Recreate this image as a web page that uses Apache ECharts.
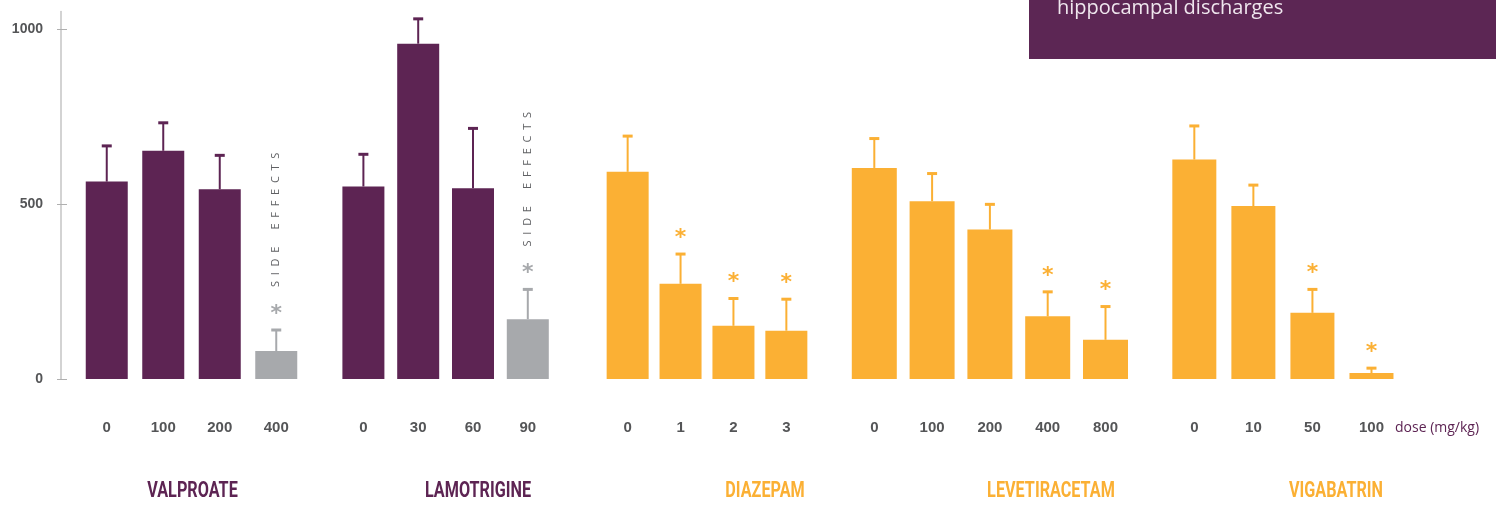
<!DOCTYPE html>
<html><head><meta charset="utf-8">
<script src="https://cdn.jsdelivr.net/npm/echarts@6/dist/echarts.min.js"></script>
<style>html,body{margin:0;padding:0;background:#fff}#c{width:1496px;height:505px}</style>
</head><body><div id="c"></div>
<script>
// ---- data ----
const drugs = ['VALPROATE', 'LAMOTRIGINE', 'DIAZEPAM', 'LEVETIRACETAM', 'VIGABATRIN'];

const valproateDoses = ['0', '100', '200', '400'];
const valproateMean  = [564, 652, 542, 80];
const valproateErr   = [102, 80, 97, 60];
const valproateSig   = [0, 0, 0, 1];
const valproateSide  = [0, 0, 0, 1];

const lamotrigineDoses = ['0', '30', '60', '90'];
const lamotrigineMean  = [550, 958, 545, 171];
const lamotrigineErr   = [92, 71, 171, 85];
const lamotrigineSig   = [0, 0, 0, 1];
const lamotrigineSide  = [0, 0, 0, 1];

const diazepamDoses = ['0', '1', '2', '3'];
const diazepamMean  = [592, 272, 152, 138];
const diazepamErr   = [102, 85, 78, 90];
const diazepamSig   = [0, 1, 1, 1];
const diazepamSide  = [0, 0, 0, 0];

const levetiracetamDoses = ['0', '100', '200', '400', '800'];
const levetiracetamMean  = [603, 508, 427, 179, 112];
const levetiracetamErr   = [84, 79, 72, 70, 95];
const levetiracetamSig   = [0, 0, 0, 1, 1];
const levetiracetamSide  = [0, 0, 0, 0, 0];

const vigabatrinDoses = ['0', '10', '50', '100'];
const vigabatrinMean  = [627, 494, 189, 17];
const vigabatrinErr   = [96, 60, 67, 14];
const vigabatrinSig   = [0, 0, 1, 1];
const vigabatrinSide  = [0, 0, 0, 0];

const yTicks = [0, 500, 1000];
const doseUnit = 'dose (mg/kg)';
const sideEffectText = 'S  I  D  E      E  F  F  E  C  T  S';
const boxText = 'hippocampal discharges';

// ---- style / layout ----
const PURPLE = '#5d2453', ORANGE = '#fbb034', GRAY = '#a7a9ac';
const groups = [
  {doses: valproateDoses, mean: valproateMean, err: valproateErr, sig: valproateSig, side: valproateSide, color: PURPLE, left: 78.5, width: 226, barW: 42, titleX: 192.5},
  {doses: lamotrigineDoses, mean: lamotrigineMean, err: lamotrigineErr, sig: lamotrigineSig, side: lamotrigineSide, color: PURPLE, left: 336, width: 219.2, barW: 42, titleX: 478},
  {doses: diazepamDoses, mean: diazepamMean, err: diazepamErr, sig: diazepamSig, side: diazepamSide, color: ORANGE, left: 601.2, width: 211.6, barW: 42, titleX: 765},
  {doses: levetiracetamDoses, mean: levetiracetamMean, err: levetiracetamErr, sig: levetiracetamSig, side: levetiracetamSide, color: ORANGE, left: 845.4, width: 289, barW: 45, titleX: 1051},
  {doses: vigabatrinDoses, mean: vigabatrinMean, err: vigabatrinErr, sig: vigabatrinSig, side: vigabatrinSide, color: ORANGE, left: 1164.8, width: 236.2, barW: 44, titleX: 1336}
];
const GRID_TOP = 11.5, GRID_H = 367.5, YMAX = 1050;
const labelFont = '"Liberation Sans", Arial, sans-serif';

const grids = [], xAxes = [], yAxes = [], series = [], graphics = [];

groups.forEach((g, gi) => {
  grids.push({left: g.left, width: g.width, top: GRID_TOP, height: GRID_H});
  xAxes.push({
    type: 'category', gridIndex: gi, data: g.doses,
    axisLine: {show: false}, axisTick: {show: false},
    axisLabel: {margin: 41, color: '#545557', fontWeight: 'bold', fontSize: 15, fontFamily: labelFont}
  });
  const yIdx = yAxes.length;
  if (gi === 0) {
    yAxes.push({
      type: 'value', gridIndex: 0, position: 'left', min: 0, max: YMAX, offset: g.left - 61,
      axisLine: {show: true, lineStyle: {color: '#c4c4c4', width: 1.5}},
      axisTick: {show: true, length: 4, customValues: yTicks, lineStyle: {color: '#b0b0b0'}},
      axisLabel: {show: true, customValues: yTicks, margin: 18, color: '#545557', fontWeight: 'bold',
                  fontSize: 14, fontFamily: labelFont, padding: [0, 0, 10, 0],
                  formatter: v => String(v)},
      splitLine: {show: false}
    });
    yAxes.push({
      type: 'value', gridIndex: 0, position: 'left', min: 0, max: YMAX, offset: g.left - 61,
      axisLine: {show: false},
      axisTick: {show: true, inside: true, length: 6, customValues: yTicks, lineStyle: {color: '#b0b0b0'}},
      axisLabel: {show: false}, splitLine: {show: false}
    });
  } else {
    yAxes.push({type: 'value', gridIndex: gi, min: 0, max: YMAX, show: false, splitLine: {show: false}});
  }
  series.push({
    type: 'bar', xAxisIndex: gi, yAxisIndex: yIdx, barWidth: g.barW,
    data: g.mean.map((v, i) => ({value: v, itemStyle: {color: g.side[i] ? GRAY : g.color}})),
    silent: true
  });
  series.push({
    type: 'custom', xAxisIndex: gi, yAxisIndex: yIdx, silent: true, z: 5,
    encode: {x: 0, y: 1},
    data: g.mean.map((v, i) => [i, v, g.err[i], g.sig[i], g.side[i]]),
    renderItem: function (params, api) {
      const i = api.value(0), m = api.value(1), e = api.value(2), sig = api.value(3), side = api.value(4);
      const base = api.coord([i, m]), top = api.coord([i, m + e]);
      const x = base[0];
      const col = side ? GRAY : g.color;
      const ch = [
        {type: 'line', shape: {x1: x, y1: base[1], x2: x, y2: top[1]}, style: {stroke: col, lineWidth: 2}},
        {type: 'rect', shape: {x: x - 5, y: top[1] - 1.5, width: 10, height: 3}, style: {fill: col}}
      ];
      if (sig) {
        ch.push({type: 'text', x: x, y: top[1] - 16, style: {text: '*', fill: col, font: 'bold 22px "DejaVu Sans", sans-serif', align: 'center', verticalAlign: 'middle'}});
      }
      if (side) {
        ch.push({type: 'text', x: x, y: top[1] - 43, rotation: Math.PI / 2,
          style: {text: sideEffectText, fill: '#606164', font: '11px "Open Sans", sans-serif', align: 'left', verticalAlign: 'middle'}});
      }
      return {type: 'group', children: ch};
    }
  });
  graphics.push({type: 'text', x: g.titleX, y: 491.5, scaleX: 0.72,
    style: {text: drugs[gi], fill: g.color, font: 'bold 22.5px Roboto, sans-serif', align: 'center', verticalAlign: 'middle'}});
});

graphics.push({type: 'text', x: 1395, y: 428, style: {text: doseUnit, fill: PURPLE, font: '14px "Open Sans", sans-serif', align: 'left', verticalAlign: 'middle'}});
graphics.push({type: 'rect', x: 1029, y: 0, shape: {width: 467, height: 59}, style: {fill: '#5c2654'}});
graphics.push({type: 'text', x: 1057, y: 18, style: {text: boxText, fill: '#efe6ee', font: '20px "Open Sans", sans-serif', align: 'left', verticalAlign: 'bottom'}});

const chart = echarts.init(document.getElementById('c'), null, {renderer: 'canvas'});
chart.setOption({
  animation: false,
  backgroundColor: '#fff',
  grid: grids, xAxis: xAxes, yAxis: yAxes, series: series, graphic: graphics
});
</script></body></html>
